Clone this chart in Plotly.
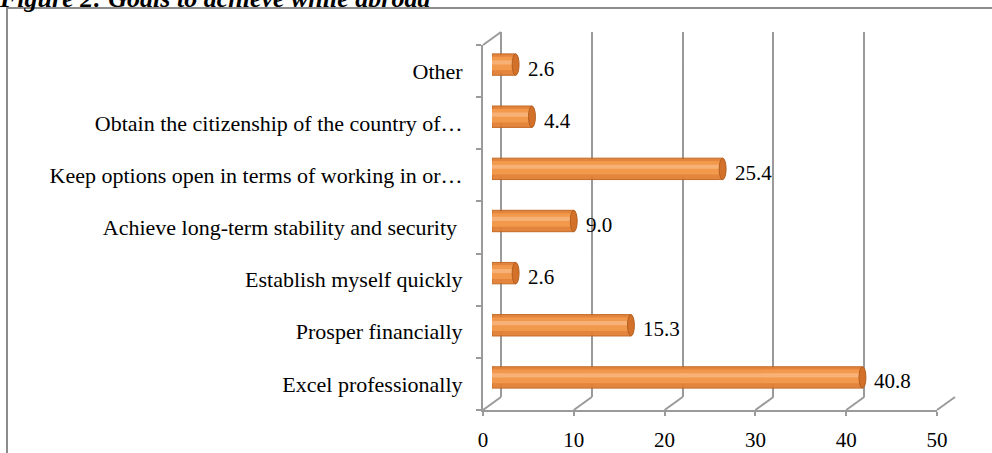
import plotly.graph_objects as go

# ---- data ----
categories = [
    "Excel professionally",
    "Prosper financially",
    "Establish myself quickly",
    "Achieve long-term stability and security ",
    "Keep options open in terms of working in or\u2026",
    "Obtain the citizenship of the country of\u2026",
    "Other",
]
values = [40.8, 15.3, 2.6, 9.0, 25.4, 4.4, 2.6]
x_ticks = [0, 10, 20, 30, 40, 50]
title_text = "Figure 2: Goals to achieve while abroad"

# ---- geometry (pixels) ----
W, H = 992, 453
FX0, FX1 = 483, 937          # front x axis (0..50)
FYB, FYT = 410, 45           # front bottom / top
DX, DY = 18, 13              # depth offset of back wall
XMAX = 50
GRAY = "#9a9a9a"
FONT = "Liberation Serif"

def px(xp):
    return xp / W

def py(yp):
    return (H - yp) / H

fig = go.Figure()

# invisible trace registering the front axes
fig.add_trace(go.Scatter(x=[0] * len(categories), y=categories, mode="none",
                         xaxis="x", yaxis="y", showlegend=False, hoverinfo="skip"))
# invisible trace registering the back-wall axes
fig.add_trace(go.Scatter(x=[None], y=[None], xaxis="x2", yaxis="y2", mode="none",
                         showlegend=False, hoverinfo="skip"))

# main cylinder bar body
fig.add_trace(go.Bar(
    x=values, y=categories, orientation="h", xaxis="x3", yaxis="y3",
    width=0.41, marker=dict(color="#E27F33", line=dict(color="#C0641F", width=1)),
    opacity=0.95, hoverinfo="x+y", showlegend=False,
))
# lighter middle band
fig.add_trace(go.Bar(
    x=values, y=categories, orientation="h", xaxis="x3", yaxis="y3",
    width=0.26, offset=-0.11, marker=dict(color="#F39A4E", line=dict(width=0)),
    opacity=0.95, hoverinfo="skip", showlegend=False,
))
# highlight
fig.add_trace(go.Bar(
    x=values, y=categories, orientation="h", xaxis="x3", yaxis="y3",
    width=0.08, offset=0.0, marker=dict(color="#F8B47C", line=dict(width=0)),
    opacity=0.9, hoverinfo="skip", showlegend=False,
))

shapes = []
annotations = []
# end caps of the cylinders (data coords on bar axes) + value labels
for i, v in enumerate(values):
    shapes.append(dict(type="circle", xref="x3", yref="y3",
                       x0=v - 0.38, x1=v + 0.38, y0=i - 0.205, y1=i + 0.205,
                       fillcolor="#D3712A", line=dict(color="#B55E1E", width=1),
                       layer="above"))
    annotations.append(dict(text=f"{v:.1f}", xref="x3", yref="y3", x=v, y=i,
                            xanchor="left", yanchor="middle", xshift=10, yshift=-4,
                            showarrow=False,
                            font=dict(family=FONT, size=21, color="black")))

# floor diagonals at each x tick
scale = (FX1 - FX0) / XMAX
for t in x_ticks:
    xf = FX0 + t * scale
    shapes.append(dict(type="line", xref="paper", yref="paper",
                       x0=px(xf), y0=py(FYB), x1=px(xf + DX), y1=py(FYB - DY),
                       line=dict(color=GRAY, width=2), layer="below"))
# top-left diagonal and back edge of the left wall
shapes.append(dict(type="line", xref="paper", yref="paper",
                   x0=px(FX0), y0=py(FYT), x1=px(FX0 + DX), y1=py(FYT - DY),
                   line=dict(color=GRAY, width=2), layer="below"))
shapes.append(dict(type="line", xref="paper", yref="paper",
                   x0=px(FX0 + DX), y0=py(FYB - DY), x1=px(FX0 + DX), y1=py(FYT - DY),
                   line=dict(color=GRAY, width=2), layer="below"))
# outer border
shapes.append(dict(type="rect", xref="paper", yref="paper",
                   x0=px(7), y0=-0.05, x1=1.05, y1=py(8),
                   line=dict(color="#8c8c8c", width=2), fillcolor="rgba(0,0,0,0)",
                   layer="below"))

fig.update_layout(
    width=W, height=H,
    margin=dict(l=0, r=0, t=0, b=0, autoexpand=False),
    paper_bgcolor="white", plot_bgcolor="rgba(0,0,0,0)",
    barmode="overlay",
    font=dict(family=FONT, size=21, color="black"),
    title=dict(text=f"<b><i>{title_text}</i></b>", x=0, xref="container",
               xanchor="left", y=py(7), yref="container", yanchor="bottom",
               pad=dict(l=0, r=0, t=0, b=0),
               font=dict(family=FONT, size=26, color="black")),
    shapes=shapes,
    annotations=annotations,
    xaxis=dict(domain=[px(FX0), px(FX1)], range=[0, XMAX], anchor="y",
               tickvals=x_ticks, showline=True, linecolor=GRAY, linewidth=2,
               ticks="outside", ticklen=4, tickcolor=GRAY, tickwidth=2,
               showgrid=False, zeroline=False, ticklabelstandoff=6,
               tickfont=dict(family=FONT, size=21, color="black")),
    yaxis=dict(domain=[py(FYB), py(FYT)], type="category", range=[-0.5, 6.5],
               categoryorder="array", categoryarray=categories, anchor="x",
               showline=True, linecolor=GRAY, linewidth=2, ticks="outside",
               tickson="boundaries", ticklen=5, tickcolor=GRAY, tickwidth=2,
               showgrid=False, zeroline=False, ticklabelstandoff=14,
               tickfont=dict(family=FONT, size=22, color="black")),
    xaxis2=dict(domain=[px(FX0 + DX), px(FX1 + DX)], range=[0, XMAX], anchor="y2",
                tickvals=x_ticks, showticklabels=False, ticks="",
                showgrid=True, gridcolor=GRAY, gridwidth=2, showline=False,
                zeroline=True, zerolinecolor=GRAY, zerolinewidth=2),
    yaxis2=dict(domain=[py(FYB - DY), py(FYT - DY)], range=[0, 1], anchor="x2",
                visible=False),
    xaxis3=dict(domain=[px(FX0 + DX / 2), px(FX1 + DX / 2)], range=[0, XMAX],
                anchor="y3", visible=False),
    yaxis3=dict(domain=[py(FYB - DY / 2), py(FYT - DY / 2)], type="category",
                range=[-0.5, 6.5], categoryorder="array", categoryarray=categories,
                anchor="x3", visible=False),
)

fig.write_html("out.html", config={"displayModeBar": False},
               post_script="document.body.style.margin='0';")
